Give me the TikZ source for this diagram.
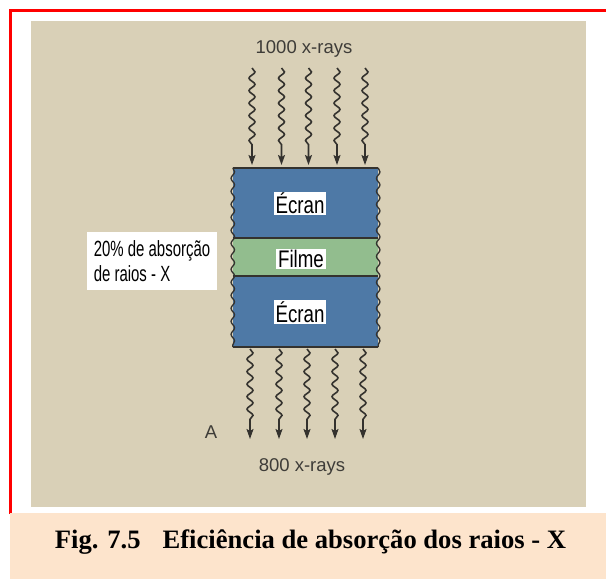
\documentclass[tikz,border=0pt]{standalone}
\usepackage{fontspec}
\setmainfont{Liberation Serif}
\newfontfamily\plainsans{Liberation Sans}
\newfontfamily\narrowsans[FakeStretch=0.78]{Liberation Sans}
\newfontfamily\tightsans[FakeStretch=0.68]{Liberation Sans}
\usetikzlibrary{decorations.pathmorphing, arrows.meta}

\definecolor{paper}{RGB}{217,208,183}
\definecolor{screenblue}{RGB}{78,121,166}
\definecolor{filmgreen}{RGB}{146,189,142}
\definecolor{peach}{RGB}{253,228,204}
\definecolor{ink}{RGB}{52,50,46}
\definecolor{printgray}{RGB}{62,60,56}

\newcommand\countsize{\fontsize{18.5}{21}\selectfont}
\newcommand\layersize{\fontsize{24}{26}\selectfont}
\newcommand\notesize{\fontsize{22}{25}\selectfont}
\newcommand\captionsize{\fontsize{26.6}{30}\selectfont}

\tikzset{
  layer/.style={rectangle, draw=none, inner sep=0pt, minimum width=145pt},
  edge/.style={draw=ink, line width=1.6pt},
  wavyside/.style={draw=ink, line width=1.3pt, decorate,
    decoration={snake, segment length=13pt, amplitude=1.8pt}},
  xray/.style={draw=ink, line width=1.6pt, decorate,
    decoration={snake, segment length=12.5pt, amplitude=3pt, post length=15pt},
    -{Stealth[length=10pt, width=7pt, inset=2pt]}},
  tag/.style={fill=white, inner xsep=2pt, inner ysep=1pt, text=black, font=\narrowsans\layersize},
  countlabel/.style={text=printgray, font=\plainsans\countsize, inner sep=0pt},
}

\begin{document}
\begin{tikzpicture}[x=1pt, y=-1pt]
\useasboundingbox (0,0) rectangle (606,579);
\fill[white] (0,0) rectangle (606,579);

% scanned page and red frame
\fill[paper] (31,21) rectangle (586,507);
\draw[red, line width=3pt] (10.5,514) -- (10.5,10.5) -- (606,10.5);
\fill[peach] (10,513) rectangle (606,579);

% screen / film / screen sandwich
\node[layer, fill=screenblue, minimum height=70pt] (scrA) at (305.5,203) {};
\node[layer, fill=filmgreen, minimum height=38pt] (film) at (305.5,257) {};
\node[layer, fill=screenblue, minimum height=71pt] (scrB) at (305.5,311.5) {};

\draw[edge, line width=2pt] (scrA.north west) -- (scrA.north east);
\draw[edge] (scrA.south west) -- (scrA.south east);
\draw[edge] (film.south west) -- (film.south east);
\draw[edge, line width=2pt] (scrB.south west) -- (scrB.south east);
\draw[wavyside] (scrA.north west) -- (scrB.south west);
\draw[wavyside] (scrA.north east) -- (scrB.south east);

\node[tag] (lblA) at (300,203.5) {Écran};
\node[tag] (lblF) at (301,259) {Filme};
\node[tag] (lblB) at (300,312) {Écran};

% incoming beam
\node[countlabel, anchor=base] (incount) at (304,53) {1000 x-rays};
\foreach \i/\x in {1/252, 2/281.5, 3/308.5, 4/337, 5/365} {
  \coordinate (src\i) at (\x,68);
  \coordinate (hit\i) at (\x,165);
  \draw[xray] (src\i) -- (hit\i);
}

% transmitted beam
\foreach \i/\x in {1/250, 2/279, 3/307, 4/335, 5/363} {
  \coordinate (exit\i) at (\x,349);
  \coordinate (end\i) at (\x,439);
  \draw[xray] (exit\i) -- (end\i);
}
\node[countlabel, anchor=base] (outcount) at (302,471) {800 x-rays};
\node[countlabel, anchor=base] (mark) at (211,438) {A};

% absorption note
\node[fill=white, minimum width=130pt, minimum height=58pt, inner xsep=6pt,
      align=left, text=black, font=\tightsans\notesize] (absorb) at (152,261)
  {20\% de absorção\\de raios - X};

% caption
\node[anchor=base, inner sep=0pt, font=\bfseries\captionsize] (caption) at (310.5,548)
  {Fig. 7.5\hspace{22pt}Eficiência de absorção dos raios - X};
\end{tikzpicture}
\end{document}
